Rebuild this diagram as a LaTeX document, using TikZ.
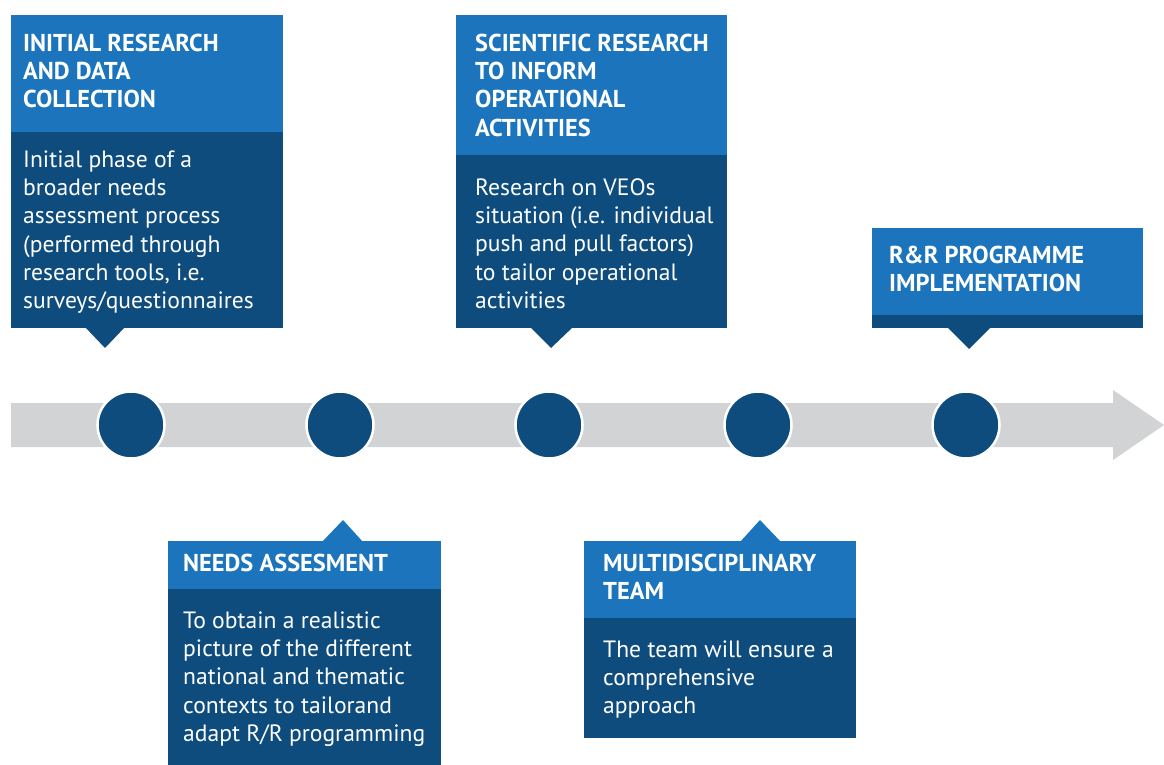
\documentclass[tikz,border=0pt]{standalone}
\usepackage{fontspec}
\setmainfont{PT Sans}
\definecolor{hdr}{HTML}{1C75BC}
\definecolor{bdy}{HTML}{0E4C7E}
\definecolor{bar}{HTML}{D1D3D4}
\begin{document}
\begin{tikzpicture}[x=1pt,y=-1pt,
  hdrtext/.style={anchor=north west, inner sep=0pt, align=left, text=white,
    font=\fontsize{24.4}{28.4}\selectfont\bfseries},
  bodytext/.style={anchor=north west, inner sep=0pt, align=left, text=white,
    font=\fontsize{23.6}{28.3}\selectfont},
  dot/.style={circle, fill=bdy, draw=white, line width=2.5pt, minimum size=67pt, inner sep=0pt}]
\useasboundingbox (0,0) rectangle (1164,765);

% timeline arrow
\fill[bar] (11,403) -- (1113,403) -- (1113,390) -- (1164,425) -- (1113,460) -- (1113,447) -- (11,447) -- cycle;

% milestones
\node[dot] (c1) at (131,425) {};
\node[dot] (c2) at (340,425) {};
\node[dot] (c3) at (549,425) {};
\node[dot] (c4) at (758,425) {};
\node[dot] (c5) at (966,425) {};

% box 1
\fill[hdr] (11,15) rectangle (283,132);
\fill[bdy] (11,132) rectangle (283,328);
\fill[bdy] (85,327) -- (105,348) -- (125,327) -- cycle;
\node[hdrtext] (h1) at (23,31.1) {\strut INITIAL RESEARCH\\AND DATA\\COLLECTION};
\node[bodytext] (b1) at (23,147.2) {\strut Initial phase of a\\broader needs\\assessment process\\(performed through\\research tools, i.e.\\surveys/questionnaires};

% box 3
\fill[hdr] (456,15) rectangle (727,155);
\fill[bdy] (456,155) rectangle (727,328);
\fill[bdy] (530,327) -- (551,348) -- (573,327) -- cycle;
\node[hdrtext] (h3) at (475,31.1) {\strut SCIENTIFIC RESEARCH\\TO INFORM\\OPERATIONAL\\ACTIVITIES};
\node[bodytext] (b3) at (475,175.2) {\strut Research on VEOs\\situation (i.e. individual\\push and pull factors)\\to tailor operational\\activities};

% box 5
\fill[hdr] (872,228) rectangle (1143,315);
\fill[bdy] (872,315) rectangle (1143,328);
\fill[bdy] (947,327) -- (969,349) -- (991,327) -- cycle;
\node[hdrtext] (h5) at (889,243.1) {\strut R\&R PROGRAMME\\IMPLEMENTATION};

% box 2
\fill[hdr] (322,542) -- (343,520) -- (363,542) -- cycle;
\fill[hdr] (168,541) rectangle (441,589);
\fill[bdy] (168,589) rectangle (441,765);
\node[hdrtext] (h2) at (183,551.1) {\strut NEEDS ASSESMENT};
\node[bodytext] (b2) at (183,608.2) {\strut To obtain a realistic\\picture of the different\\national and thematic\\contexts to tailorand\\adapt R/R programming};

% box 4
\fill[hdr] (740,542) -- (760,520) -- (781,542) -- cycle;
\fill[hdr] (584,541) rectangle (856,618);
\fill[bdy] (584,618) rectangle (856,738);
\node[hdrtext] (h4) at (603,551.1) {\strut MULTIDISCIPLINARY\\TEAM};
\node[bodytext] (b4) at (603,637.2) {\strut The team will ensure a\\comprehensive\\approach};
\end{tikzpicture}
\end{document}
